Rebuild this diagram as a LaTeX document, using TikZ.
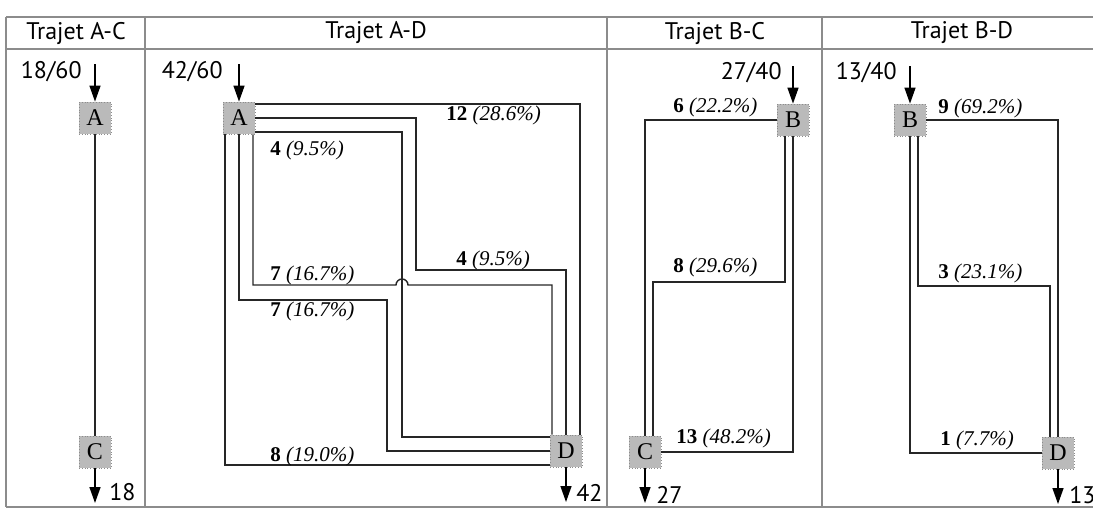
\documentclass[tikz,border=0pt]{standalone}
\usepackage{fontspec}
\setmainfont{Liberation Serif}
\newfontfamily\headfont{PT Sans}
\usetikzlibrary{arrows.meta}

\begin{document}
\begin{tikzpicture}[x=0.5pt, y=-0.5pt,
    tableLine/.style={draw=black!45, line width=0.9pt},
    headText/.style={font=\headfont\fontsize{12}{14}\selectfont, inner sep=0},
    countText/.style={font=\headfont\fontsize{12}{14}\selectfont, inner sep=0},
    stopBox/.style={rectangle, draw=black!45, densely dotted, fill=black!27, minimum size=16pt, inner sep=0, font=\fontsize{12}{13}\selectfont},
    flowLine/.style={draw=black!85, line width=0.7pt},
    inArrow/.style={-{Triangle[length=8pt,width=5.5pt]}, draw=black, line width=0.7pt},
    flowLabel/.style={anchor=west, inner sep=0, font=\fontsize{10.5}{12}\selectfont}
]
    \useasboundingbox (0,0) rectangle (1093,510);

    % Tableau
    \draw[tableLine] (6,17) -- (1093,17);
    \draw[tableLine] (6,49) -- (1093,49);
    \draw[tableLine] (6,507) -- (1093,507);
    \foreach \xs in {6,145,607,822} \draw[tableLine] (\xs,17) -- (\xs,507);
    \node[headText] (hAC) at (76,33) {Trajet A-C};
    \node[headText] (hAD) at (376,33) {Trajet A-D};
    \node[headText] (hBC) at (715,33) {Trajet B-C};
    \node[headText] (hBD) at (962,33) {Trajet B-D};

    % Trajet A-C
    \node[stopBox] (aAC) at (95,118) {A};
    \node[stopBox] (cAC) at (95,452) {C};
    \coordinate (inAC) at (95,64);
    \coordinate (outAC) at (95,503);
    \node[countText, anchor=east] (fAC) at (82,72) {18/60};
    \node[countText, anchor=west] (tAC) at (109,492) {18};
    \draw[inArrow] (inAC) -- (aAC);
    \draw[flowLine] (aAC) -- (cAC);
    \draw[inArrow] (cAC) -- (outAC);

    % Trajet A-D
    \node[stopBox] (aAD) at (239,118) {A};
    \node[stopBox] (dAD) at (566,451) {D};
    \coordinate (inAD) at (239,64);
    \coordinate (outAD) at (566,502);
    \node[countText, anchor=east] (fAD) at (223,72) {42/60};
    \node[countText, anchor=west] (tAD) at (576,493) {42};
    \draw[inArrow] (inAD) -- (aAD);
    \draw[inArrow] (dAD) -- (outAD);
    \draw[flowLine] ([yshift=7pt]aAD.east) -| ([xshift=7pt]dAD.north);
    \draw[flowLine] (aAD.east) -| (416,270) -| (dAD.north);
    \draw[flowLine] ([yshift=-7pt]aAD.east) -| (402,437) -- ([yshift=7pt]dAD.west);
    \draw[flowLine] ([xshift=7pt]aAD.south) |- (396,285) arc[start angle=180, end angle=0, radius=3pt] -| ([xshift=-7pt]dAD.north);
    \draw[flowLine] (aAD.south) |- (387,300) |- (dAD.west);
    \draw[flowLine] ([xshift=-7pt]aAD.south) |- ([yshift=-7pt]dAD.west);
    \node[flowLabel] (l12) at (446,115) {\textbf{12} \textit{(28.6\%)}};
    \node[flowLabel] (l4b) at (456,260) {\textbf{4} \textit{(9.5\%)}};
    \node[flowLabel] (l4a) at (270,150) {\textbf{4} \textit{(9.5\%)}};
    \node[flowLabel] (l7a) at (270,275) {\textbf{7} \textit{(16.7\%)}};
    \node[flowLabel] (l7b) at (270,311) {\textbf{7} \textit{(16.7\%)}};
    \node[flowLabel] (l8) at (270,456) {\textbf{8} \textit{(19.0\%)}};

    % Trajet B-C
    \node[stopBox] (bBC) at (793,120) {B};
    \node[stopBox] (cBC) at (645,452) {C};
    \coordinate (inBC) at (793,66);
    \coordinate (outBC) at (645,503);
    \node[countText, anchor=east] (fBC) at (782,73) {27/40};
    \node[countText, anchor=west] (tBC) at (656,495) {27};
    \draw[inArrow] (inBC) -- (bBC);
    \draw[inArrow] (cBC) -- (outBC);
    \draw[flowLine] (bBC.west) -| (cBC.north);
    \draw[flowLine] ([xshift=-4pt]bBC.south) |- (653,282) -- ([xshift=4pt]cBC.north);
    \draw[flowLine] (bBC.south) |- (cBC.east);
    \node[flowLabel] (l6) at (673,107) {\textbf{6} \textit{(22.2\%)}};
    \node[flowLabel] (l8c) at (673,267) {\textbf{8} \textit{(29.6\%)}};
    \node[flowLabel] (l13) at (676,438) {\textbf{13} \textit{(48.2\%)}};

    % Trajet B-D
    \node[stopBox] (bBD) at (910,120) {B};
    \node[stopBox] (dBD) at (1058,453) {D};
    \coordinate (inBD) at (910,66);
    \coordinate (outBD) at (1058,504);
    \node[countText, anchor=east] (fBD) at (897,73) {13/40};
    \node[countText, anchor=west] (tBD) at (1069,495) {13};
    \draw[inArrow] (inBD) -- (bBD);
    \draw[inArrow] (dBD) -- (outBD);
    \draw[flowLine] (bBD.east) -| (dBD.north);
    \draw[flowLine] ([xshift=4pt]bBD.south) |- (1050,286) -- ([xshift=-4pt]dBD.north);
    \draw[flowLine] (bBD.south) |- (dBD.west);
    \node[flowLabel] (l9) at (938,108) {\textbf{9} \textit{(69.2\%)}};
    \node[flowLabel] (l3) at (938,273) {\textbf{3} \textit{(23.1\%)}};
    \node[flowLabel] (l1) at (940,440) {\textbf{1} \textit{(7.7\%)}};
\end{tikzpicture}
\end{document}
